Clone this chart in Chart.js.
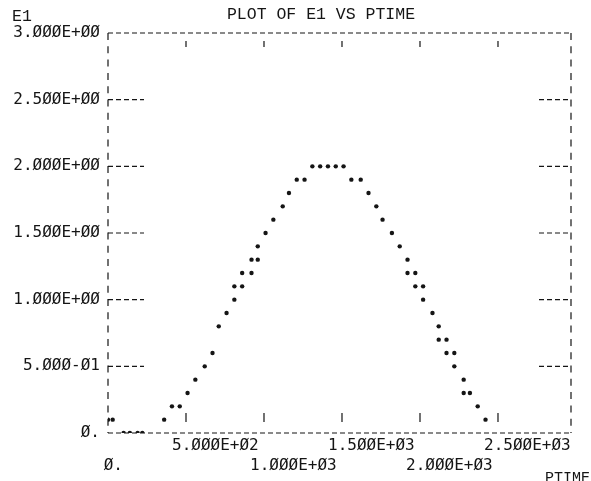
<!DOCTYPE html>
<html lang="en">
<head>
  <meta charset="UTF-8">
  <title>PLOT OF E1 VS PTIME</title>
  <script src="https://cdn.jsdelivr.net/npm/chart.js"></script>
  <style>
    html, body { margin: 0; padding: 0; background: #fff; }
    .graph { width: 591px; height: 481px; }
  </style>
</head>
<body>
<div class="graph">
  <canvas id="myChart" width="591" height="481"></canvas>
</div>
<script>
  // valores (PTIME, E1)
  const ptime = [0, 30, 100, 140, 190, 220, 360, 410, 460, 510, 560, 620, 670, 710, 760,
    810, 810, 860, 860, 920, 920, 960, 960, 1010, 1060, 1120, 1160, 1210, 1260,
    1310, 1360, 1410, 1460, 1510, 1560, 1620, 1670, 1720, 1760, 1820, 1870,
    1920, 1920, 1970, 1970, 2020, 2020, 2080, 2120, 2120, 2170, 2170, 2220, 2220,
    2280, 2280, 2320, 2370, 2420];
  const e1 = [0.1, 0.1, 0, 0, 0, 0, 0.1, 0.2, 0.2, 0.3, 0.4, 0.5, 0.6, 0.8, 0.9,
    1.0, 1.1, 1.1, 1.2, 1.2, 1.3, 1.3, 1.4, 1.5, 1.6, 1.7, 1.8, 1.9, 1.9,
    2.0, 2.0, 2.0, 2.0, 2.0, 1.9, 1.9, 1.8, 1.7, 1.6, 1.5, 1.4,
    1.3, 1.2, 1.2, 1.1, 1.1, 1.0, 0.9, 0.8, 0.7, 0.7, 0.6, 0.6, 0.5,
    0.4, 0.3, 0.3, 0.2, 0.1];

  const yTickValues = [0, 0.5, 1, 1.5, 2, 2.5, 3];
  const yTickLabels = ['Ø.', '5.ØØØ-Ø1', '1.ØØØE+ØØ', '1.5ØØE+ØØ', '2.ØØØE+ØØ', '2.5ØØE+ØØ', '3.ØØØE+ØØ'];
  const xTickValues = [0, 500, 1000, 1500, 2000, 2500];
  const xTickLabels = [' Ø.', '5.ØØØE+Ø2', '1.ØØØE+Ø3', '1.5ØØE+Ø3', '2.ØØØE+Ø3', '2.5ØØE+Ø3'];

  const ink = '#151515';
  const mono = '"DejaVu Sans Mono", monospace';
  const typewriter = '"Liberation Mono", monospace';

  // moldura tracejada, marcas dos eixos e textos soltos
  const printerFrame = {
    id: 'printerFrame',
    beforeDatasetsDraw(chart) {
      const ctx = chart.ctx;
      const a = chart.chartArea;
      const x = chart.scales.x;
      const y = chart.scales.y;
      ctx.save();
      ctx.strokeStyle = ink;
      ctx.lineWidth = 1.2;

      ctx.setLineDash([5, 3]);
      ctx.beginPath();
      ctx.moveTo(a.left, a.top); ctx.lineTo(a.right, a.top);
      ctx.moveTo(a.left, a.bottom); ctx.lineTo(a.right, a.bottom);
      yTickValues.forEach(function (v) {
        if (v === 0 || v === 3) return;
        const py = y.getPixelForValue(v);
        ctx.moveTo(a.left, py); ctx.lineTo(a.left + 36, py);
        ctx.moveTo(a.right - 32, py); ctx.lineTo(a.right, py);
      });
      ctx.stroke();

      ctx.setLineDash([7, 6.3]);
      ctx.beginPath();
      ctx.moveTo(a.left, a.top); ctx.lineTo(a.left, a.bottom);
      ctx.moveTo(a.right, a.top); ctx.lineTo(a.right, a.bottom);
      ctx.stroke();

      ctx.setLineDash([]);
      ctx.beginPath();
      xTickValues.forEach(function (v) {
        if (v === 0) return;
        const px = x.getPixelForValue(v);
        ctx.moveTo(px, a.top + 8); ctx.lineTo(px, a.top + 14);
        ctx.moveTo(px, a.bottom - 20); ctx.lineTo(px, a.bottom - 11);
      });
      ctx.stroke();

      ctx.fillStyle = ink;
      ctx.font = '16.5px ' + typewriter;
      ctx.textBaseline = 'middle';
      ctx.textAlign = 'center';
      ctx.fillText('PLOT OF E1 VS PTIME', 321, 15);
      ctx.textAlign = 'left';
      ctx.fillText('E1', 12, 17);
      ctx.font = '15px ' + typewriter;
      ctx.textBaseline = 'top';
      ctx.fillText('PTIME', 545, 471);
      ctx.restore();
    }
  };

  const config = {
    type: 'scatter',
    data: {
      datasets: [{
        label: 'E1',
        data: ptime.map(function (t, i) { return { x: t, y: e1[i] }; }),
        pointRadius: 2.2,
        pointHoverRadius: 2.2,
        pointBackgroundColor: ink,
        pointBorderWidth: 0,
        showLine: false
      }]
    },
    options: {
      responsive: false,
      animation: false,
      layout: { padding: { top: 33, right: 20, left: 0, bottom: 0 } },
      plugins: { legend: { display: false }, tooltip: { enabled: false } },
      scales: {
        x: {
          type: 'linear',
          min: 0,
          max: 2968,
          afterFit: function (s) { s.height = 48; },
          afterBuildTicks: function (s) { s.ticks = xTickValues.map(function (v) { return { value: v }; }); },
          grid: { display: false, drawTicks: false },
          border: { display: false },
          ticks: {
            autoSkip: false,
            maxRotation: 0,
            align: 'start',
            labelOffset: -14,
            padding: 2,
            color: ink,
            font: { family: mono, size: 16, lineHeight: 1.3 },
            callback: function (v, i) {
              return i % 2 === 1 ? [xTickLabels[i]] : ['', xTickLabels[i]];
            }
          }
        },
        y: {
          min: 0,
          max: 3,
          afterFit: function (s) { s.width = 108; },
          afterBuildTicks: function (s) { s.ticks = yTickValues.map(function (v) { return { value: v }; }); },
          grid: { display: false, drawTicks: false },
          border: { display: false },
          ticks: {
            autoSkip: false,
            padding: 8,
            color: ink,
            font: { family: mono, size: 16 },
            callback: function (v, i) { return yTickLabels[i]; }
          }
        }
      }
    },
    plugins: [printerFrame]
  };

  new Chart(document.getElementById('myChart'), config);
</script>
</body>
</html>
